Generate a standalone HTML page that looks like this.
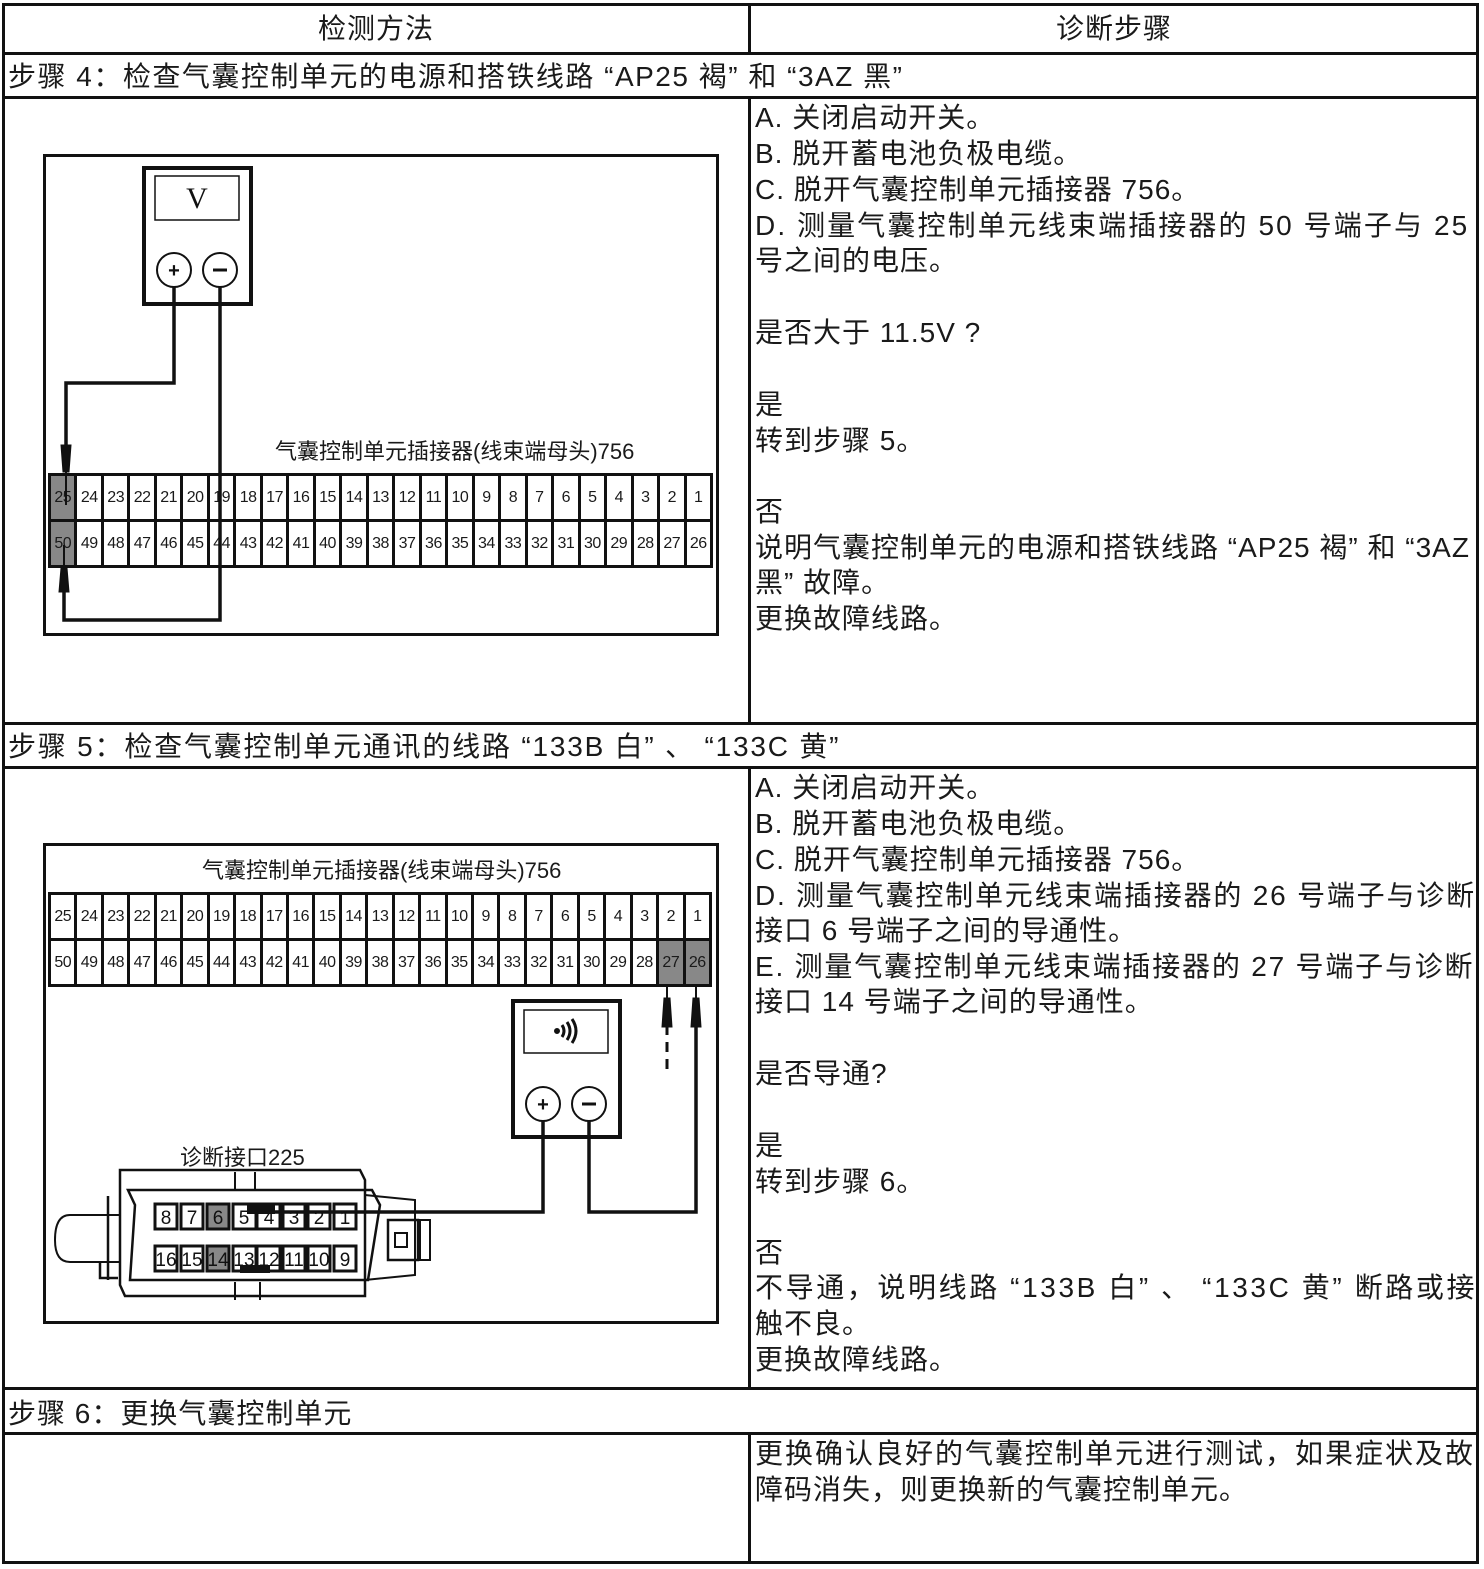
<!DOCTYPE html>
<html><head><meta charset="utf-8"><style>
*{margin:0;padding:0;box-sizing:border-box}
body{width:1484px;height:1569px;background:#fff;position:relative;overflow:hidden;font-family:"Liberation Sans","Noto Sans CJK SC",sans-serif;color:#1a1a1a}
.t{position:absolute;white-space:nowrap;font-size:28px;line-height:36px;letter-spacing:1px}
.h{position:absolute;background:#111}
.conn{position:absolute;background:#111;padding:3px;display:grid;grid-template-columns:repeat(25,1fr);gap:3px}
.conn div{background:#fff;font-size:16px;display:flex;align-items:center;justify-content:center;letter-spacing:-0.5px}
.conn div.g{background:#888}
.lbl{position:absolute;font-size:22px;white-space:nowrap}
</style></head><body>
<div class="h" style="left:2px;top:3px;width:1477px;height:3px"></div>
<div class="h" style="left:2px;top:52px;width:1477px;height:3px"></div>
<div class="h" style="left:2px;top:96px;width:1477px;height:3px"></div>
<div class="h" style="left:2px;top:722px;width:1477px;height:3px"></div>
<div class="h" style="left:2px;top:766px;width:1477px;height:3px"></div>
<div class="h" style="left:2px;top:1387px;width:1477px;height:3px"></div>
<div class="h" style="left:2px;top:1432px;width:1477px;height:3px"></div>
<div class="h" style="left:2px;top:1561px;width:1477px;height:3px"></div>
<div class="h" style="left:2px;top:3px;width:3px;height:1561px"></div>
<div class="h" style="left:1476px;top:3px;width:3px;height:1561px"></div>
<div class="h" style="left:748px;top:3px;width:3px;height:51px"></div>
<div class="h" style="left:748px;top:97px;width:3px;height:627px"></div>
<div class="h" style="left:748px;top:767px;width:3px;height:622px"></div>
<div class="h" style="left:748px;top:1433px;width:3px;height:130px"></div>

<div class="t" style="left:318px;top:11px">检测方法</div>
<div class="t" style="left:1056px;top:11px">诊断步骤</div>
<div class="t" style="left:8px;top:59px;letter-spacing:1.5px">步骤 4：检查气囊控制单元的电源和搭铁线路 “AP25 褐” 和 “3AZ 黑”</div>
<div class="t" style="left:8px;top:729px;letter-spacing:1.8px">步骤 5：检查气囊控制单元通讯的线路 “133B 白” 、 “133C 黄”</div>
<div class="t" style="left:8px;top:1396px">步骤 6：更换气囊控制单元</div>

<div class="t" style="left:755px;top:100px">A. 关闭启动开关。</div>
<div class="t" style="left:755px;top:136px">B. 脱开蓄电池负极电缆。</div>
<div class="t" style="left:755px;top:172px">C. 脱开气囊控制单元插接器 756。</div>
<div class="t" style="left:755px;top:208px;letter-spacing:2.1px">D. 测量气囊控制单元线束端插接器的 50 号端子与 25</div>
<div class="t" style="left:755px;top:243px">号之间的电压。</div>
<div class="t" style="left:755px;top:315px">是否大于 11.5V ?</div>
<div class="t" style="left:755px;top:387px">是</div>
<div class="t" style="left:755px;top:423px">转到步骤 5。</div>
<div class="t" style="left:755px;top:494px">否</div>
<div class="t" style="left:755px;top:530px;letter-spacing:1px">说明气囊控制单元的电源和搭铁线路 “AP25 褐” 和 “3AZ</div>
<div class="t" style="left:755px;top:565px">黑” 故障。</div>
<div class="t" style="left:755px;top:601px">更换故障线路。</div>

<div class="t" style="left:755px;top:770px">A. 关闭启动开关。</div>
<div class="t" style="left:755px;top:806px">B. 脱开蓄电池负极电缆。</div>
<div class="t" style="left:755px;top:842px">C. 脱开气囊控制单元插接器 756。</div>
<div class="t" style="left:755px;top:878px;letter-spacing:1.8px">D. 测量气囊控制单元线束端插接器的 26 号端子与诊断</div>
<div class="t" style="left:755px;top:913px">接口 6 号端子之间的导通性。</div>
<div class="t" style="left:755px;top:949px;letter-spacing:1.8px">E. 测量气囊控制单元线束端插接器的 27 号端子与诊断</div>
<div class="t" style="left:755px;top:984px">接口 14 号端子之间的导通性。</div>
<div class="t" style="left:755px;top:1056px">是否导通?</div>
<div class="t" style="left:755px;top:1128px">是</div>
<div class="t" style="left:755px;top:1164px">转到步骤 6。</div>
<div class="t" style="left:755px;top:1235px">否</div>
<div class="t" style="left:755px;top:1270px;letter-spacing:2.6px">不导通，说明线路 “133B 白” 、 “133C 黄” 断路或接</div>
<div class="t" style="left:755px;top:1306px">触不良。</div>
<div class="t" style="left:755px;top:1342px">更换故障线路。</div>

<div class="t" style="left:755px;top:1436px;letter-spacing:2px">更换确认良好的气囊控制单元进行测试，如果症状及故</div>
<div class="t" style="left:755px;top:1472px">障码消失，则更换新的气囊控制单元。</div>

<div style="position:absolute;left:43px;top:154px;width:676px;height:482px;border:3px solid #111"></div>
<div class="lbl" style="left:275px;top:434px">气囊控制单元插接器(线束端母头)756</div>
<div class="conn" style="left:48px;top:473px;width:665px;height:95px">
<div class="g">25</div><div>24</div><div>23</div><div>22</div><div>21</div><div>20</div><div>19</div><div>18</div><div>17</div><div>16</div><div>15</div><div>14</div><div>13</div><div>12</div><div>11</div><div>10</div><div>9</div><div>8</div><div>7</div><div>6</div><div>5</div><div>4</div><div>3</div><div>2</div><div>1</div>
<div class="g">50</div><div>49</div><div>48</div><div>47</div><div>46</div><div>45</div><div>44</div><div>43</div><div>42</div><div>41</div><div>40</div><div>39</div><div>38</div><div>37</div><div>36</div><div>35</div><div>34</div><div>33</div><div>32</div><div>31</div><div>30</div><div>29</div><div>28</div><div>27</div><div>26</div>
</div>
<svg style="position:absolute;left:0;top:0" width="1484" height="1569" fill="none" stroke="#111">
<rect x="144" y="168" width="107" height="136" stroke-width="4"/>
<rect x="155" y="176" width="84" height="44" stroke-width="1.5"/>
<text x="197" y="208" font-size="30" font-family="Liberation Serif" fill="#111" stroke="none" text-anchor="middle">V</text>
<circle cx="174" cy="270" r="17" stroke-width="2"/><circle cx="220" cy="270" r="17" stroke-width="2"/>
<text x="174" y="277" font-size="20" fill="#111" stroke="none" text-anchor="middle" font-weight="bold">+</text>
<line x1="213" y1="270" x2="227" y2="270" stroke-width="3"/>
<polyline points="174,287 174,383 66,383 66,450" stroke-width="3.5"/>
<polyline points="220,287 220,620 64,620 64,590" stroke-width="3.5"/>
<line x1="66" y1="470" x2="66" y2="505" stroke-width="2"/>
<line x1="64" y1="545" x2="64" y2="568" stroke-width="2"/>
<polygon points="61,445 71,445 69,472 63,472" fill="#111"/>
<polygon points="61,568 67,568 69,592 59,592" fill="#111"/>

<rect x="44.5" y="844.5" width="673" height="478" stroke-width="3"/>
<rect x="513" y="1001" width="107" height="136" stroke-width="4"/>
<rect x="524" y="1010" width="84" height="43" stroke-width="1.5"/>
<circle cx="557" cy="1031" r="2.5" fill="#111"/>
<path d="M562 1025 q4 6 0 12 M567 1022 q6 9 0 18 M572 1019 q8 12 0 24" stroke-width="3"/>
<circle cx="543" cy="1104" r="17" stroke-width="2"/><circle cx="589" cy="1104" r="17" stroke-width="2"/>
<text x="543" y="1111" font-size="20" fill="#111" stroke="none" text-anchor="middle" font-weight="bold">+</text>
<line x1="582" y1="1104" x2="596" y2="1104" stroke-width="3"/>
<polyline points="543,1121 543,1212 250,1212" stroke-width="3.5"/>
<polyline points="589,1121 589,1212 696,1212 696,1025" stroke-width="3.5"/>
<line x1="667" y1="1025" x2="667" y2="1075" stroke-width="3" stroke-dasharray="10,7"/>
<line x1="667" y1="986" x2="667" y2="1000" stroke-width="2"/>
<line x1="696" y1="986" x2="696" y2="1000" stroke-width="2"/>
<polygon points="664,998 670,998 672,1027 662,1027" fill="#111"/>
<polygon points="693,998 699,998 701,1027 691,1027" fill="#111"/>
<path d="M120 1170 L360 1170 L365 1180 L365 1296 L125 1296 L120 1285 Z" stroke-width="2.5"/>
<path d="M128 1190 L372 1190 L380 1205 L368 1280 L130 1280 L135 1205 Z" stroke-width="2.5"/>
<path d="M70 1215 L120 1215 L120 1262 L70 1262 Q55 1262 55 1240 Q55 1215 70 1215" stroke-width="2"/>
<path d="M108 1196 L108 1280 M100 1262 L100 1278 L118 1278" stroke-width="2.5"/>
<path d="M365 1195 L415 1200 L415 1275 L365 1280" stroke-width="2"/>
<rect x="388" y="1220" width="30" height="40" stroke-width="2.5"/>
<rect x="420" y="1220" width="10" height="40" stroke-width="2"/>
<rect x="395" y="1233" width="12" height="14" stroke-width="2"/>
<path d="M235 1172 L235 1190 M255 1172 L255 1190 M235 1282 L235 1300 M260 1282 L260 1300" stroke-width="2"/>
<g stroke-width="3">
<rect x="155" y="1204" width="22" height="25"/><rect x="181" y="1204" width="22" height="25"/><rect x="207" y="1204" width="22" height="25" fill="#888"/><rect x="233" y="1204" width="23" height="25"/><rect x="257" y="1204" width="23" height="25"/><rect x="283" y="1204" width="22" height="25"/><rect x="308" y="1204" width="22" height="25"/><rect x="334" y="1204" width="22" height="25"/>
<rect x="155" y="1246" width="22" height="25"/><rect x="181" y="1246" width="22" height="25"/><rect x="207" y="1246" width="22" height="25" fill="#888"/><rect x="233" y="1246" width="23" height="25"/><rect x="257" y="1246" width="23" height="25"/><rect x="283" y="1246" width="22" height="25"/><rect x="308" y="1246" width="22" height="25"/><rect x="334" y="1246" width="22" height="25"/>
</g>
<rect x="247" y="1205" width="28" height="9" fill="#111" stroke="none"/>
<rect x="240" y="1265" width="30" height="8" fill="#111" stroke="none"/>
<g font-size="19" fill="#111" stroke="none" text-anchor="middle" font-family="Liberation Sans">
<text x="166" y="1224">8</text><text x="192" y="1224">7</text><text x="218" y="1224">6</text><text x="244" y="1224">5</text><text x="269" y="1224">4</text><text x="294" y="1224">3</text><text x="319" y="1224">2</text><text x="345" y="1224">1</text>
<text x="166" y="1266">16</text><text x="192" y="1266">15</text><text x="218" y="1266">14</text><text x="244" y="1266">13</text><text x="269" y="1266">12</text><text x="294" y="1266">11</text><text x="319" y="1266">10</text><text x="345" y="1266">9</text>
</g>
</svg>
<div class="lbl" style="left:202px;top:853px">气囊控制单元插接器(线束端母头)756</div>
<div class="lbl" style="left:180px;top:1140px">诊断接口225</div>
<div class="conn" style="left:48px;top:892px;width:664px;height:95px">
<div>25</div><div>24</div><div>23</div><div>22</div><div>21</div><div>20</div><div>19</div><div>18</div><div>17</div><div>16</div><div>15</div><div>14</div><div>13</div><div>12</div><div>11</div><div>10</div><div>9</div><div>8</div><div>7</div><div>6</div><div>5</div><div>4</div><div>3</div><div>2</div><div>1</div>
<div>50</div><div>49</div><div>48</div><div>47</div><div>46</div><div>45</div><div>44</div><div>43</div><div>42</div><div>41</div><div>40</div><div>39</div><div>38</div><div>37</div><div>36</div><div>35</div><div>34</div><div>33</div><div>32</div><div>31</div><div>30</div><div>29</div><div>28</div><div class="g">27</div><div class="g">26</div>
</div>
</body></html>
